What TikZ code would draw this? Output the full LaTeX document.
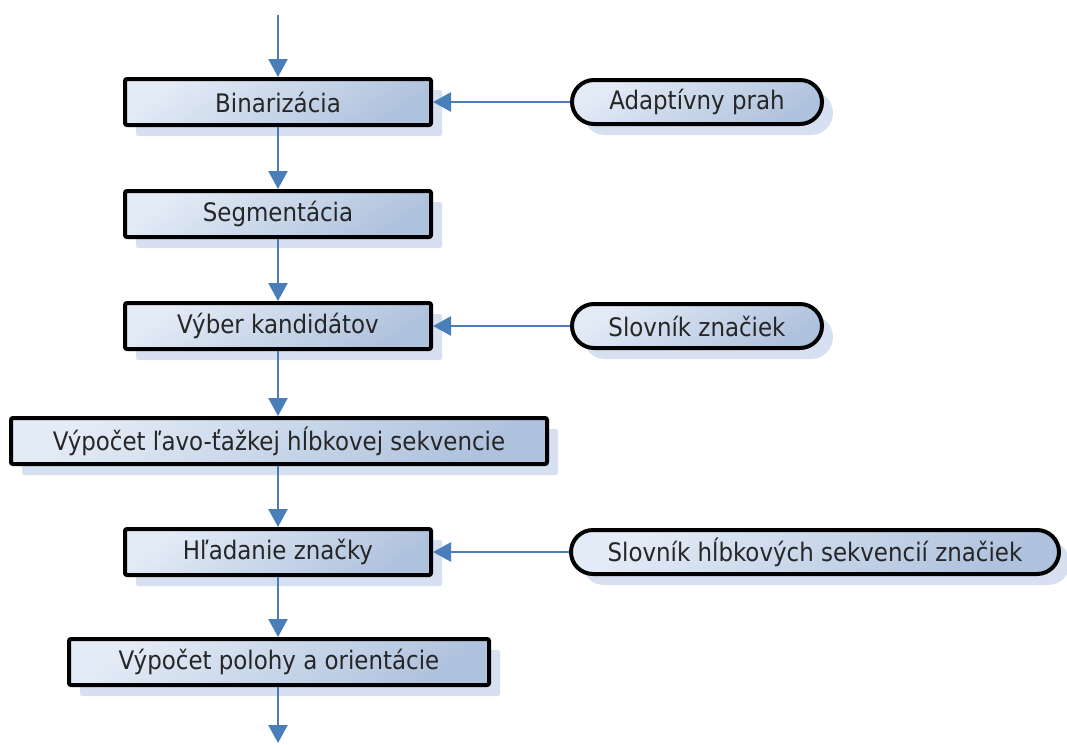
\documentclass[tikz,border=0pt]{standalone}
\usepackage{fontspec}
\setmainfont{DejaVu Sans Condensed}
\usetikzlibrary{arrows.meta,shadows}
\definecolor{flowblue}{HTML}{4A7EBB}
\definecolor{boxlight}{HTML}{E3EBF6}
\definecolor{boxdark}{HTML}{AFC2DD}
\definecolor{shadowblue}{HTML}{D6E0F0}
\begin{document}
\begin{tikzpicture}[x=1pt,y=-1pt,
  procbox/.style={draw=black, line width=4pt, rounded corners=2pt,
    top color=boxlight, bottom color=boxdark, shading angle=35,
    general shadow={fill=shadowblue, shadow xshift=11pt, shadow yshift=-11pt},
    minimum height=46pt, inner sep=0pt,
    font=\fontsize{25.5}{28}\selectfont, text=black!85},
  sourcebox/.style={procbox, rounded corners=22pt, minimum height=44pt},
  flow/.style={draw=flowblue, line width=2.5pt,
    -{Triangle[length=18pt,width=19pt]}}]
  \useasboundingbox (0,0) rectangle (1067,744);

  % main processing chain
  \node[procbox, minimum width=306pt] (bin) at (278,102) {Binarizácia};
  \node[procbox, minimum width=306pt] (seg) at (278,214) {Segmentácia};
  \node[procbox, minimum width=306pt] (vyb) at (278,326) {Výber kandidátov};
  \node[procbox, minimum width=536pt] (vyp) at (279,441) {Výpočet ľavo-ťažkej hĺbkovej sekvencie};
  \node[procbox, minimum width=306pt] (hla) at (278,552) {Hľadanie značky};
  \node[procbox, minimum width=420pt] (pol) at (279,662) {Výpočet polohy a orientácie};

  % side inputs
  \node[sourcebox, minimum width=250pt] (prah) at (697,102) {Adaptívny prah};
  \node[sourcebox, minimum width=250pt] (slov) at (697,326) {Slovník značiek};
  \node[sourcebox, minimum width=488pt] (hlslov) at (815,552) {Slovník hĺbkových sekvencií značiek};

  \coordinate (in) at (278,15);
  \coordinate (out) at (278,743);

  % connectors
  \draw[flow] (in) -- (bin.north);
  \draw[flow] (bin.south) -- (seg.north);
  \draw[flow] (seg.south) -- (vyb.north);
  \draw[flow] (vyb.south) -- (vyb.south |- vyp.north);
  \draw[flow] (vyb.south |- vyp.south) -- (hla.north);
  \draw[flow] (hla.south) -- (hla.south |- pol.north);
  \draw[flow] (hla.south |- pol.south) -- (out);
  \draw[flow] (prah.west) -- (bin.east);
  \draw[flow] (slov.west) -- (vyb.east);
  \draw[flow] (hlslov.west) -- (hla.east);
\end{tikzpicture}
\end{document}
